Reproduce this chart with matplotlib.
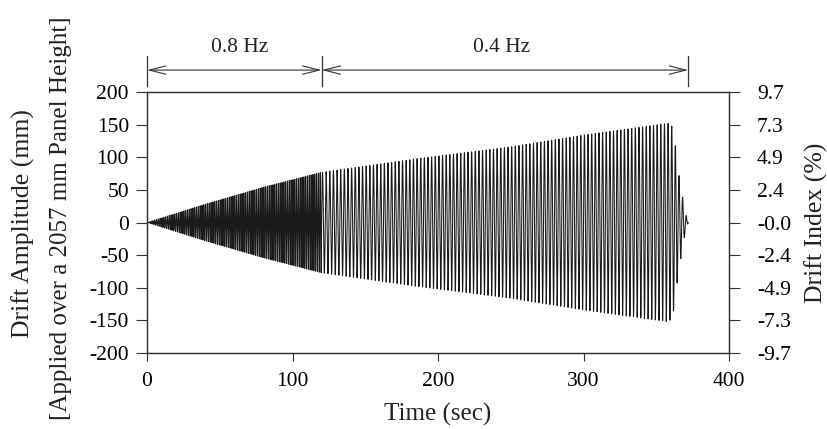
import numpy as np
import matplotlib
matplotlib.use("Agg")
import matplotlib.pyplot as plt

# ---- data ----
# input frequencies of the two phases (Hz) and their time spans (s)
phase_freqs = [0.8, 0.4]
phase_starts = [0.0, 120.0]
phase_ends = [120.0, 372.0]
phase_labels = ["0.8 Hz", "0.4 Hz"]
phase_label_x = [64.0, 244.0]

# amplitude envelope (mm) read at breakpoints
env_t = [0, 40, 80, 120, 186, 250, 300, 358, 361, 363, 365, 368, 370, 372]
env_a = [0, 28, 54, 77, 98, 116, 134, 152, 147, 120, 80, 40, 15, 0]

panel_height = 2057.0
yticks_left = [-200, -150, -100, -50, 0, 50, 100, 150, 200]
yticks_right_labels = ["-9.7", "-7.3", "-4.9", "-2.4", "-0.0", "2.4", "4.9", "7.3", "9.7"]
xticks = [0, 100, 200, 300, 400]

# ---- build the displacement history ----
dt = 0.01
t_parts, y_parts = [], []
for f, t0, t1 in zip(phase_freqs, phase_starts, phase_ends):
    tt = np.arange(t0, t1, dt)
    amp = np.interp(tt, env_t, env_a)
    t_parts.append(tt)
    y_parts.append(amp * np.sin(2 * np.pi * f * (tt - t0)))
t = np.concatenate(t_parts)
y = np.concatenate(y_parts)

plt.rcParams['font.family'] = ['Liberation Serif', 'DejaVu Serif']
plt.rcParams['axes.unicode_minus'] = False
fig = plt.figure(figsize=(8.28, 4.29), dpi=100)
ax = fig.add_axes([147 / 828, 1 - 353 / 429, (729 - 147) / 828, (353 - 92) / 429])

ax.plot(t, y, color='#1a1a1a', lw=0.75)
ax.set_xlim(0, 400)
ax.set_ylim(-200, 200)
ax.set_xticks(xticks)
ax.set_yticks(yticks_left)
ax.tick_params(axis='both', direction='out', labelsize=15.5, width=0.8, color='#333333')
ax.tick_params(axis='y', length=8, pad=5)
ax.tick_params(axis='x', length=6, pad=8)
for s in ax.spines.values():
    s.set_linewidth(0.9)
    s.set_color('#333333')

ax2 = ax.twinx()
ax2.set_ylim(-200, 200)
ax2.set_yticks(yticks_left)
ax2.set_yticklabels(yticks_right_labels)
ax2.tick_params(axis='y', direction='out', length=8, pad=12, labelsize=15.5, width=0.8, color='#333333')
for s in ax2.spines.values():
    s.set_linewidth(0.9)
    s.set_color('#333333')

# axis labels
fig.text(23 / 828, 0.478, "Drift Amplitude (mm)", rotation=90, ha='center', va='center', fontsize=18.5, color='#222222')
fig.text(61 / 828, 0.492, "[Applied over a 2057 mm Panel Height]", rotation=90, ha='center', va='center', fontsize=18.0, color='#222222')
fig.text(816 / 828, 0.481, "Drift Index (%)", rotation=90, ha='center', va='center', fontsize=18.5, color='#222222')
fig.text(438 / 828, 1 - 414 / 429, "Time (sec)", ha='center', va='center', fontsize=18, color='#222222')

# phase annotations
tr = ax.get_xaxis_transform()
for t0, t1, lab, lx in zip(phase_starts, phase_ends, phase_labels, phase_label_x):
    ax.annotate("", xy=(t0, 1.084), xytext=(t1, 1.084), xycoords=tr, textcoords=tr,
                annotation_clip=False,
                arrowprops=dict(arrowstyle='<->,head_length=1.2,head_width=0.3',
                                mutation_scale=10, lw=0.8, color='#333333',
                                shrinkA=0, shrinkB=0))
    ax.text(lx, 1.172, lab, transform=tr, ha='center', va='center', fontsize=15.5, color='#222222')
for xb in [phase_starts[0], phase_starts[1], phase_ends[1]]:
    ax.plot([xb, xb], [1.023, 1.138], transform=tr, color='#333333', lw=0.9, clip_on=False)

fig.savefig("out.png", dpi=100)
